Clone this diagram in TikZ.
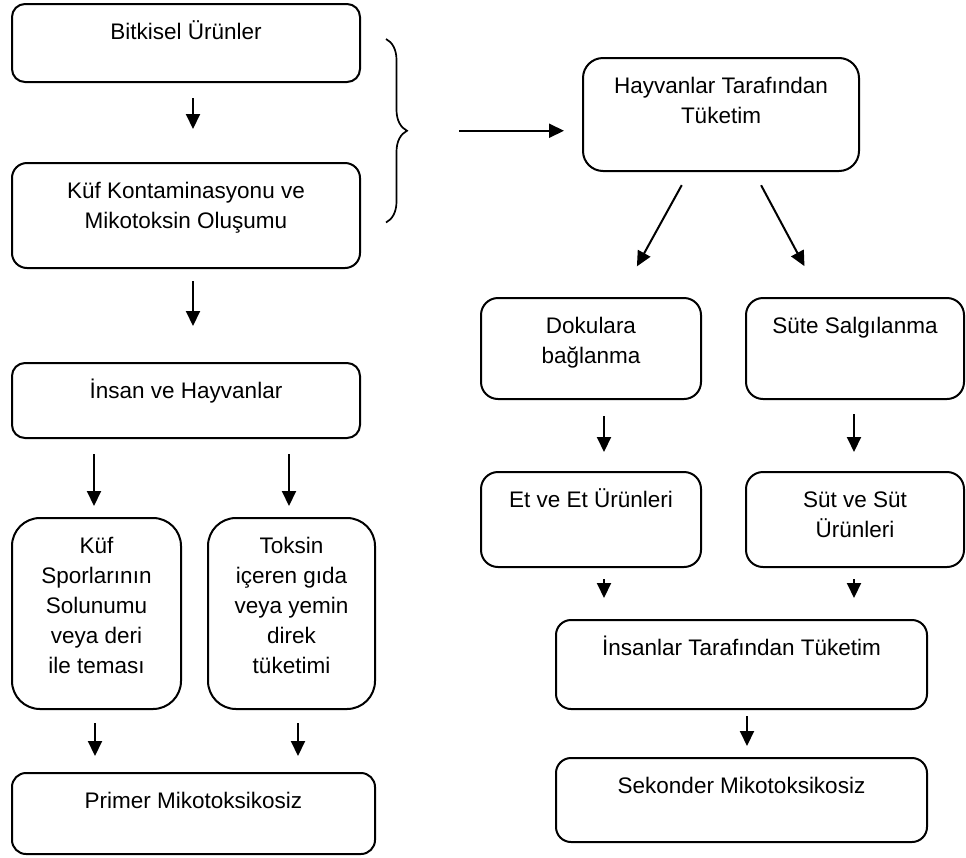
\documentclass[tikz,border=0pt]{standalone}
\usepackage{fontspec}
\setmainfont{Liberation Sans}
\usepackage{tikz}
\usetikzlibrary{calc}
\usetikzlibrary{arrows.meta}
\usetikzlibrary{positioning}
\usetikzlibrary{decorations.pathreplacing}
\tikzset{>={Triangle[length=15pt,width=14pt]}}
\tikzset{kutu/.style = {draw, line width=2pt, rectangle, rounded corners=#1, inner sep=0pt},
         kutu/.default = 15pt,
         yazi/.style = {anchor=north, yshift=-15pt, align=center, inner sep=0pt,
                        font=\fontsize{22.5}{30}\selectfont},
         ok/.style = {->, line width=2pt}}

\begin{document}
\begin{tikzpicture}[x=1pt, y=-1pt]
\useasboundingbox (0,0) rectangle (966,857);
% sol sutun
\node [kutu=13pt, minimum width=348pt, minimum height=78pt, label={[yazi]north:{\strut Bitkisel Ürünler}}] (bitkisel) at (186, 43) {};
\node [kutu=15pt, minimum width=348pt, minimum height=105pt, label={[yazi]north:{\strut Küf Kontaminasyonu ve\\Mikotoksin Oluşumu}}] (kuf) at (186, 215.5) {};
\node [kutu=13pt, minimum width=348pt, minimum height=75pt, label={[yazi]north:{\strut İnsan ve Hayvanlar}}] (insan) at (186, 400.5) {};
\node [kutu=28pt, minimum width=169pt, minimum height=191pt, label={[yazi]north:{\strut Küf\\Sporlarının\\Solunumu\\veya deri\\ile teması}}] (sporlar) at (96.5, 613.5) {};
\node [kutu=28pt, minimum width=167pt, minimum height=191pt, label={[yazi]north:{\strut Toksin\\içeren gıda\\veya yemin\\direk\\tüketimi}}] (toksin) at (291.5, 613.5) {};
\node [kutu=14pt, minimum width=363pt, minimum height=81pt, label={[yazi]north:{\strut Primer Mikotoksikosiz}}] (primer) at (193.5, 813.5) {};
% sag sutun
\node [kutu=20pt, minimum width=276pt, minimum height=113pt, label={[yazi]north:{\strut Hayvanlar Tarafından\\Tüketim}}] (hayvan) at (721, 114.5) {};
\node [kutu=17pt, minimum width=220pt, minimum height=101pt, label={[yazi]north:{\strut Dokulara\\bağlanma}}] (doku) at (591, 348.5) {};
\node [kutu=17pt, minimum width=218pt, minimum height=101pt, label={[yazi]north:{\strut Süte Salgılanma}}] (sute) at (855, 348.5) {};
\node [kutu=17pt, minimum width=220pt, minimum height=95pt, label={[yazi]north:{\strut Et ve Et Ürünleri}}] (et) at (591, 519.5) {};
\node [kutu=17pt, minimum width=218pt, minimum height=95pt, label={[yazi]north:{\strut Süt ve Süt\\Ürünleri}}] (sut) at (855, 519.5) {};
\node [kutu=15pt, minimum width=371pt, minimum height=89pt, label={[yazi]north:{\strut İnsanlar Tarafından Tüketim}}] (insanlar) at (741.5, 664.5) {};
\node [kutu=15pt, minimum width=371pt, minimum height=84pt, label={[yazi]north:{\strut Sekonder Mikotoksikosiz}}] (sekonder) at (741.5, 800) {};
% kume parantezi
\coordinate (pust) at ([xshift=25pt, yshift=4pt]bitkisel.east);
\coordinate (palt) at ([xshift=25pt, yshift=-7pt]kuf.east);
\draw [line width=1.7pt, decorate, decoration={brace, amplitude=21pt}] (pust) -- (palt);
\coordinate (pucu) at ($(pust)!0.5!(palt)+(21,0)$);
% oklar
\draw [ok, shorten <=52pt, shorten >=18pt] (pucu) -- (pucu -| hayvan.west);
\draw [ok, shorten <=15pt, shorten >=33pt] ([xshift=7pt]bitkisel.south) -- ([xshift=7pt]kuf.north);
\draw [ok, shorten <=12pt, shorten >=36pt] ([xshift=7pt]kuf.south) -- ([xshift=7pt]insan.north);
\draw [ok, shorten <=15pt, shorten >=11pt] ([xshift=-2.5pt]sporlar.north |- insan.south) -- ([xshift=-2.5pt]sporlar.north);
\draw [ok, shorten <=15pt, shorten >=11pt] ([xshift=-2.5pt]toksin.north |- insan.south) -- ([xshift=-2.5pt]toksin.north);
\draw [ok, shorten <=13pt, shorten >=16pt] ([xshift=-1.5pt]sporlar.south) -- ([xshift=-1.5pt]sporlar.south |- primer.north);
\draw [ok, shorten <=13pt, shorten >=16pt] ([xshift=6.5pt]toksin.south) -- ([xshift=6.5pt]toksin.south |- primer.north);
\draw [ok, shorten <=15pt, shorten >=35pt] ([xshift=-32pt]hayvan.south) -- ([xshift=29pt]doku.north);
\draw [ok, shorten <=15pt, shorten >=35pt] ([xshift=33pt]hayvan.south) -- ([xshift=-34pt]sute.north);
\draw [ok, shorten <=16pt, shorten >=19pt] ([xshift=13pt]doku.south) -- ([xshift=13pt]et.north);
\draw [ok, shorten <=14pt, shorten >=19pt] ([xshift=-1pt]sute.south) -- ([xshift=-1pt]sut.north);
\draw [ok, shorten <=11pt, shorten >=21pt] ([xshift=13pt]et.south) -- ([xshift=13pt]et.south |- insanlar.north);
\draw [ok, shorten <=11pt, shorten >=21pt] ([xshift=-1pt]sut.south) -- ([xshift=-1pt]sut.south |- insanlar.north);
\draw [ok, shorten <=6pt, shorten >=11pt] ([xshift=5.5pt]insanlar.south) -- ([xshift=5.5pt]sekonder.north);
\end{tikzpicture}
\end{document}
